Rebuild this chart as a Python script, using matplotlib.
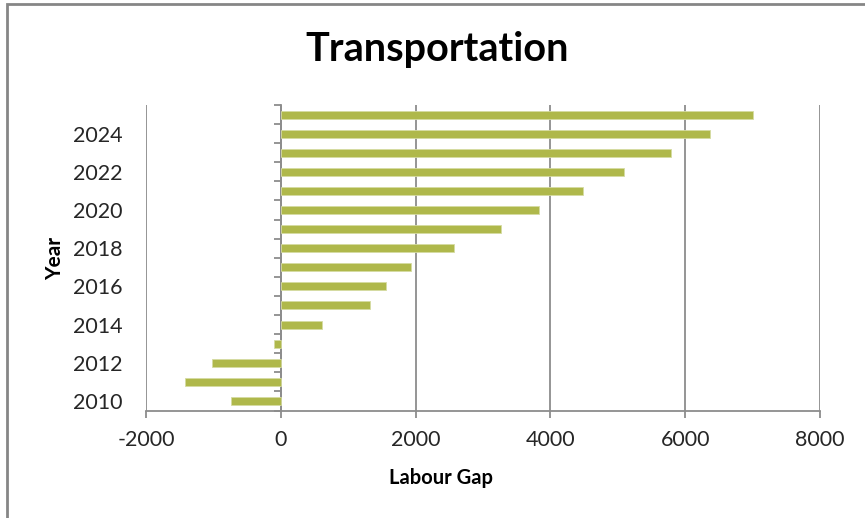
import matplotlib
matplotlib.use("Agg")
import matplotlib.pyplot as plt
import numpy as np
from matplotlib.patches import Rectangle

years = list(range(2010, 2026))
labour_gap = [-736, -1425, -1014, -94, 604, 1327, 1565, 1926,
              2566, 3266, 3829, 4490, 5091, 5792, 6364, 7010]
label_years = [2010, 2012, 2014, 2016, 2018, 2020, 2022, 2024]
x_ticks = [-2000, 0, 2000, 4000, 6000, 8000]

bar_color = "#AFB84B"
grid_color = "#8C8C8C"
text_color = "#262626"
font = ["Lato", "DejaVu Sans"]

fig = plt.figure(figsize=(8.65, 5.18), dpi=100)
W, H = 865, 518
ax = fig.add_axes([146 / W, 1 - 410.5 / H, (820 - 146) / W, (410.5 - 105) / H])

ax.barh(years, labour_gap, height=0.42, color=bar_color,
        edgecolor="#D5DBA2", linewidth=0.6, zorder=3)

ax.set_xlim(x_ticks[0], x_ticks[-1])
ax.set_ylim(years[0] - 0.5, years[-1] + 0.5)
ax.set_xticks(x_ticks)
ax.set_xticklabels([str(v) for v in x_ticks], fontsize=15.5, family=font, color=text_color)
ax.set_yticks(label_years)
ax.set_yticklabels([str(y) for y in label_years], fontsize=15.5, family=font, color=text_color)

ax.xaxis.grid(True, color=grid_color, linewidth=1.3, zorder=0)
ax.set_axisbelow(True)
for side in ("left", "right", "top"):
    ax.spines[side].set_visible(False)
ax.spines["bottom"].set_color(grid_color)
ax.spines["bottom"].set_linewidth(1.3)
ax.tick_params(axis="x", direction="out", length=5, width=1.3, color=grid_color, pad=9)
ax.tick_params(axis="y", length=0, pad=17)

# category axis crossing at zero, with ticks between categories
xmin, xmax = ax.get_xlim()
cross = (0 - xmin) / (xmax - xmin)
sec = ax.secondary_yaxis(cross)
boundaries = np.arange(years[0] - 0.5, years[-1] + 1.0, 1.0)
sec.set_yticks(boundaries)
sec.set_yticklabels([])
sec.tick_params(axis="y", direction="out", length=5, width=1.3, color=grid_color)
sec.spines["left"].set_color(grid_color)
sec.spines["left"].set_linewidth(1.3)

fig.text(441 / W, 1 - 478 / H, "Labour Gap", ha="center", va="center",
         fontsize=14.5, fontweight="bold", family=font, color="black")
fig.text(55 / W, 1 - 258 / H, "Year", ha="center", va="center", rotation=90,
         fontsize=15, fontweight="bold", family=font, color="black")

fig.text(437 / W, 1 - 50 / H, "Transportation", ha="center", va="center",
         fontsize=28.5, fontweight="bold", family=font, color="black")

fig.patches.append(Rectangle((7.5 / W, -0.1), 1.2, 1.1 - 4 / H,
                             transform=fig.transFigure, fill=False,
                             edgecolor="#868686", linewidth=2))

fig.savefig("out.png", dpi=100)
